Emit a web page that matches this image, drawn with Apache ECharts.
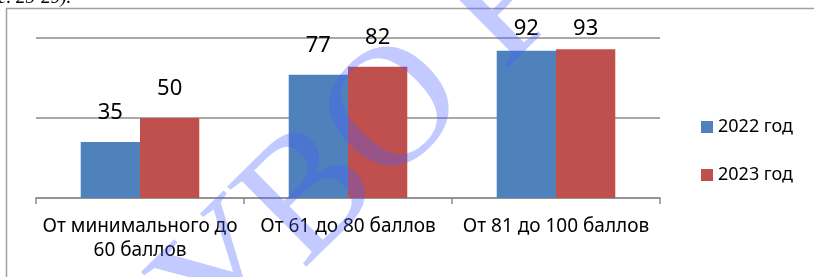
<!DOCTYPE html>
<html>
<head>
<meta charset="utf-8">
<script src="https://cdn.jsdelivr.net/npm/echarts@6/dist/echarts.min.js"></script>
<style>
  html, body { margin: 0; padding: 0; background: #fff; }
  #chart { width: 814px; height: 277px; }
</style>
</head>
<body>
<div id="chart"></div>
<script>
// данные диаграммы
const categories = ['От минимального до\n60 баллов', 'От 61 до 80 баллов', 'От 81 до 100 баллов'];
const seriesNames = ['2022 год', '2023 год'];
const values2022 = [35, 77, 92];
const values2023 = [50, 82, 93];
const colors = ['#4f81bd', '#c0504d'];

const FONT = '"Noto Sans", "Open Sans", sans-serif';

// подписи не вылезают выше верха области построения (как в Excel)
let withLabels = (arr) => arr.map(v => {
    let barTop = 198 - 1.6 * v;
    let center = Math.max(barTop - 27, 31);
    return { value: v, label: { distance: barTop - center - 9 } };
});

let myChart = echarts.init(document.getElementById('chart'));

myChart.setOption({
    animation: false,
    color: colors,
    grid: { left: 36, right: 154, top: 38, bottom: 79 },
    legend: {
        orient: 'vertical',
        left: 701,
        top: 118,
        padding: 0,
        itemWidth: 12,
        itemHeight: 12,
        itemGap: 30,
        icon: 'rect',
        data: seriesNames,
        textStyle: { fontFamily: FONT, fontSize: 18, color: '#000' }
    },
    xAxis: {
        type: 'category',
        data: categories,
        axisLine: { lineStyle: { color: '#8c8c8c', width: 1.5 } },
        axisTick: { show: true, alignWithLabel: false, length: 6, lineStyle: { color: '#8c8c8c', width: 1.5 } },
        axisLabel: { margin: 17, fontFamily: FONT, fontSize: 19, color: '#000', lineHeight: 24, interval: 0 }
    },
    yAxis: {
        type: 'value',
        min: 0,
        max: 100,
        interval: 50,
        axisLabel: { show: false },
        axisLine: { show: false },
        axisTick: { show: false },
        splitLine: { lineStyle: { color: '#8c8c8c', width: 1.5 } }
    },
    series: [
        {
            name: seriesNames[0],
            type: 'bar',
            barGap: '0%',
            barCategoryGap: '43%',
            data: withLabels(values2022),
            label: { show: true, position: 'top', fontFamily: FONT, fontSize: 22, color: '#000' }
        },
        {
            name: seriesNames[1],
            type: 'bar',
            barGap: '0%',
            barCategoryGap: '43%',
            data: withLabels(values2023),
            label: { show: true, position: 'top', fontFamily: FONT, fontSize: 22, color: '#000' }
        }
    ],
    graphic: [
        // рамка
        { type: 'line', shape: { x1: 6, y1: 8.5, x2: 814, y2: 8.5 }, style: { stroke: '#a0a0a0', lineWidth: 1.5 }, z: 1 },
        { type: 'line', shape: { x1: 6.5, y1: 8, x2: 6.5, y2: 277 }, style: { stroke: '#a0a0a0', lineWidth: 1.5 }, z: 1 },
        // обрезанная строка текста сверху
        { type: 'text', left: -2, top: -12, style: { text: 'с. 25-29).', font: 'italic 19px "Liberation Serif", serif', fill: '#000' } },
        // водяной знак
        {
            type: 'text',
            x: 245, y: 385,
            rotation: 0.78,
            z: 100,
            style: {
                text: 'УВО РФ',
                font: '172px "Liberation Serif", serif',
                fill: 'rgba(70,95,255,0.33)',
                textAlign: 'left',
                textVerticalAlign: 'bottom'
            }
        }
    ]
});
</script>
</body>
</html>
